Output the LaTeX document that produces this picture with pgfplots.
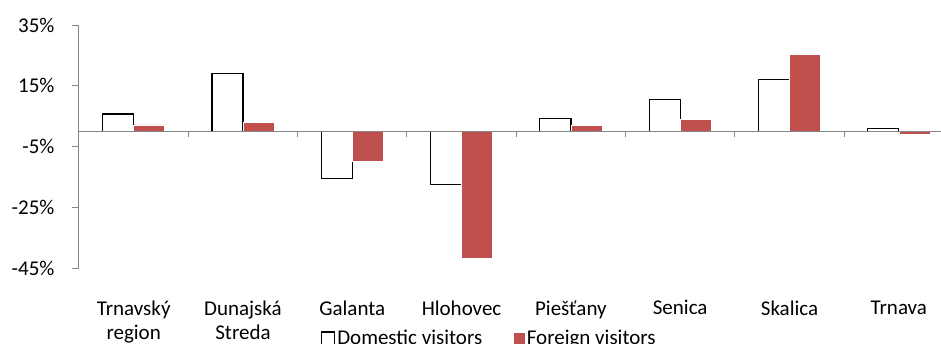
\documentclass[border=0pt]{standalone}
\usepackage{pgfplots}
\pgfplotsset{compat=1.18}
\usepackage{fontspec}
\setmainfont{Carlito}
\definecolor{fred}{HTML}{C0504D}
\definecolor{axgray}{HTML}{868686}
\newcommand{\lf}{\fontsize{21}{24}\selectfont}
\begin{document}
\begin{tikzpicture}[x=1pt,y=1pt]
\path[use as bounding box] (0,0) rectangle (941,343);
\begin{axis}[
  at={(79pt,75pt)}, anchor=south west,
  scale only axis, width=862pt, height=243pt,
  xmin=-0.5, xmax=7.386,
  ymin=-45, ymax=35,
  ytick={-45,-25,-5,15,35},
  yticklabels={-45\%,-25\%,-5\%,15\%,35\%},
  axis y line*=left,
  axis x line*=bottom,
  x axis line style={draw=none},
  y axis line style={axgray, line width=1pt},
  ytick style={axgray, line width=1pt},
  tick align=outside, major tick length=7pt,
  yticklabel style={font=\lf, xshift=-14pt},
  xtick={0,...,7},
  xticklabels={{Trnavský\\region},{Dunajská\\Streda},Galanta,Hlohovec,Piešťany,Senica,Skalica,Trnava},
  xticklabel style={font=\lf, align=center, yshift=-22pt},
  x tick style={draw=none},
  clip=false,
  legend columns=2,
  legend style={at={(0.476,-0.29)}, anchor=center, draw=none, fill=none, font=\lf,
    /tikz/every even column/.append style={column sep=30pt}},
]
\addplot[ybar, bar width=0.284, bar shift=-0.142, fill=white, draw=black, line width=1.3pt,
  legend image code/.code={\draw[black, line width=1.3pt, fill=white] (-3pt,-6.5pt) rectangle (10pt,6.5pt);}]
  coordinates {(0,5.7) (1,19.0) (2,-15.5) (3,-17.4) (4,4.3) (5,10.4) (6,17.0) (7,1.0)};
\addlegendentry{Domestic visitors}
\addplot[ybar, bar width=0.284, bar shift=0.142, fill=fred, draw=white, line width=0.6pt,
  legend image code/.code={\fill[fred] (0pt,-5pt) rectangle (10pt,5pt);}]
  coordinates {(0,2.1) (1,2.9) (2,-9.9) (3,-41.7) (4,2.0) (5,4.0) (6,25.3) (7,-1.1)};
\addlegendentry{Foreign visitors}
\draw[axgray, line width=1pt] (axis cs:-0.5,0) -- (axis cs:7.386,0);
\pgfplotsinvokeforeach{0.5,1.5,...,6.5}{\draw[axgray, line width=1pt] (axis cs:#1,0) -- ([yshift=-6pt]axis cs:#1,0);}
\end{axis}
\end{tikzpicture}
\end{document}
